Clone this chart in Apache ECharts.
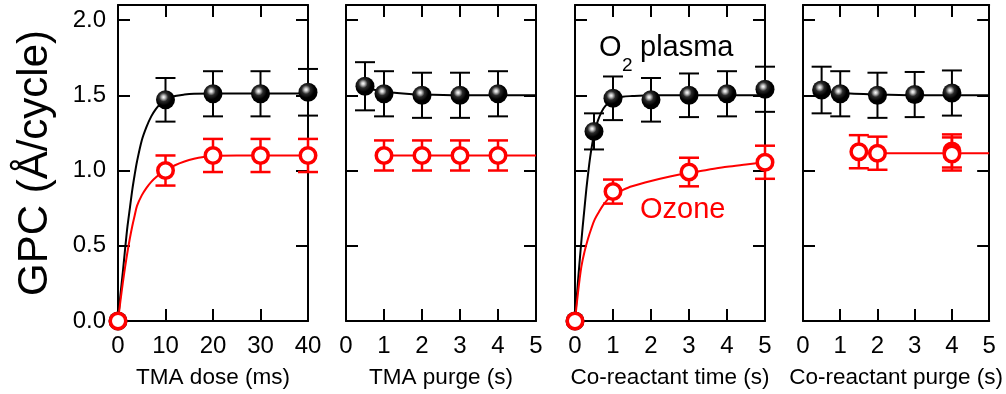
<!DOCTYPE html>
<html>
<head>
<meta charset="utf-8">
<title>GPC saturation curves</title>
<script src="https://cdn.jsdelivr.net/npm/echarts@6.0.0/dist/echarts.min.js"></script>
<style>
  html, body { margin: 0; padding: 0; background: #fff; }
  #gpc-chart { width: 1006px; height: 394px; }
</style>
</head>
<body>
<div id="gpc-chart"></div>
<script>
  /* axis setup for the four panels */
  const xNames = ['TMA dose (ms)', 'TMA purge (s)', 'Co-reactant time (s)', 'Co-reactant purge (s)'];
  const xMax = [40, 5, 5, 5];
  const xStep = [10, 1, 1, 1];
  const yMax = 2.1;
  const yStep = 0.5;

  /* panel 1 : TMA dose */
  const doseX = [0, 10, 20, 30, 40];
  const dosePlasma = [0, 1.47, 1.51, 1.51, 1.52];
  const dosePlasmaErr = [0, 0.145, 0.15, 0.15, 0.155];
  const doseOzone = [0, 1.00, 1.10, 1.10, 1.10];
  const doseOzoneErr = [0, 0.10, 0.11, 0.11, 0.11];
  const dosePlasmaFitX = [0, 0.5, 1, 1.5, 2, 2.5, 3, 3.5, 4, 5, 6, 7, 8, 9, 10, 12, 14, 16, 20, 30, 40];
  const dosePlasmaFitY = [0, 0.17, 0.32, 0.48, 0.63, 0.75, 0.87, 0.97, 1.06, 1.2, 1.29, 1.36, 1.41, 1.445, 1.47, 1.495, 1.505, 1.51, 1.512, 1.512, 1.512];
  const doseOzoneFitX = [0, 0.5, 1, 1.5, 2, 2.5, 3, 3.5, 4, 5, 6, 7, 8, 9, 10, 12, 14, 16, 18, 20, 25, 30, 40];
  const doseOzoneFitY = [0, 0.13, 0.25, 0.36, 0.46, 0.55, 0.63, 0.70, 0.765, 0.835, 0.885, 0.925, 0.955, 0.98, 1.0, 1.035, 1.06, 1.078, 1.09, 1.097, 1.10, 1.10, 1.10];

  /* panel 2 : TMA purge */
  const tmaPurgeX = [0.5, 1, 2, 3, 4];
  const tmaPurgePlasma = [1.56, 1.51, 1.50, 1.50, 1.51];
  const tmaPurgePlasmaErr = [0.16, 0.15, 0.15, 0.15, 0.15];
  const tmaPurgeOzoneX = [1, 2, 3, 4];
  const tmaPurgeOzone = [1.10, 1.10, 1.10, 1.10];
  const tmaPurgeOzoneErr = [0.10, 0.10, 0.10, 0.10];
  const tmaPurgePlasmaFitX = [0.5, 1, 1.5, 2, 3, 4, 5];
  const tmaPurgePlasmaFitY = [1.55, 1.525, 1.512, 1.505, 1.50, 1.50, 1.50];
  const tmaPurgeOzoneFitX = [1, 5];
  const tmaPurgeOzoneFitY = [1.10, 1.10];

  /* panel 3 : co-reactant time */
  const timeX = [0, 0.5, 1, 2, 3, 4, 5];
  const timePlasma = [0, 1.26, 1.48, 1.47, 1.50, 1.51, 1.54];
  const timePlasmaErr = [0, 0.12, 0.145, 0.145, 0.145, 0.15, 0.15];
  const timeOzoneX = [0, 1, 3, 5];
  const timeOzone = [0, 0.86, 0.99, 1.055];
  const timeOzoneErr = [0, 0.08, 0.095, 0.11];
  const timePlasmaFitX = [0, 0.05, 0.1, 0.15, 0.2, 0.25, 0.3, 0.35, 0.4, 0.45, 0.5, 0.6, 0.7, 0.8, 1, 1.25, 1.5, 2, 3, 4, 5];
  const timePlasmaFitY = [0, 0.17, 0.33, 0.48, 0.62, 0.75, 0.88, 0.99, 1.09, 1.17, 1.24, 1.33, 1.39, 1.43, 1.47, 1.49, 1.495, 1.50, 1.50, 1.50, 1.50];
  const timeOzoneFitX = [0, 0.04, 0.08, 0.12, 0.17, 0.25, 0.34, 0.43, 0.52, 0.63, 0.74, 0.87, 1, 1.25, 1.5, 2, 2.5, 3, 3.5, 4, 4.5, 5];
  const timeOzoneFitY = [0, 0.1, 0.19, 0.275, 0.365, 0.46, 0.545, 0.615, 0.675, 0.725, 0.77, 0.81, 0.84, 0.87, 0.895, 0.93, 0.96, 0.985, 1.005, 1.025, 1.04, 1.055];

  /* panel 4 : co-reactant purge */
  const purgeX = [0.5, 1, 2, 3, 4];
  const purgePlasma = [1.535, 1.51, 1.50, 1.505, 1.515];
  const purgePlasmaErr = [0.155, 0.15, 0.15, 0.15, 0.15];
  const purgeOzoneX = [1.5, 2, 4, 4];
  const purgeOzone = [1.125, 1.115, 1.13, 1.11];
  const purgeOzoneErr = [0.11, 0.11, 0.11, 0.11];
  const purgePlasmaFitX = [0.5, 1, 2, 3, 4, 5];
  const purgePlasmaFitY = [1.53, 1.515, 1.505, 1.50, 1.50, 1.50];
  const purgeOzoneFitX = [1.5, 5];
  const purgeOzoneFitY = [1.115, 1.115];

  const panels = [
    {x: doseX, p: dosePlasma, pe: dosePlasmaErr, ox: doseX, o: doseOzone, oe: doseOzoneErr,
      pfx: dosePlasmaFitX, pfy: dosePlasmaFitY, ofx: doseOzoneFitX, ofy: doseOzoneFitY},
    {x: tmaPurgeX, p: tmaPurgePlasma, pe: tmaPurgePlasmaErr, ox: tmaPurgeOzoneX, o: tmaPurgeOzone, oe: tmaPurgeOzoneErr,
      pfx: tmaPurgePlasmaFitX, pfy: tmaPurgePlasmaFitY, ofx: tmaPurgeOzoneFitX, ofy: tmaPurgeOzoneFitY},
    {x: timeX, p: timePlasma, pe: timePlasmaErr, ox: timeOzoneX, o: timeOzone, oe: timeOzoneErr,
      pfx: timePlasmaFitX, pfy: timePlasmaFitY, ofx: timeOzoneFitX, ofy: timeOzoneFitY},
    {x: purgeX, p: purgePlasma, pe: purgePlasmaErr, ox: purgeOzoneX, o: purgeOzone, oe: purgeOzoneErr,
      pfx: purgePlasmaFitX, pfy: purgePlasmaFitY, ofx: purgeOzoneFitX, ofy: purgeOzoneFitY}
  ];

  const FONT = '"Liberation Sans", Arial, Helvetica, sans-serif';
  const gridLeft = [118, 346, 575, 803];
  const RED = '#ff0000';

  const ballColor = {
    type: 'radial', x: 0.4, y: 0.36, r: 0.62,
    colorStops: [
      {offset: 0, color: '#ffffff'},
      {offset: 0.14, color: '#c4c4c4'},
      {offset: 0.38, color: '#2a2a2a'},
      {offset: 0.7, color: '#000000'},
      {offset: 1, color: '#000000'}
    ]
  };

  const zip = (a, b) => a.map((v, i) => [v, b[i]]);
  const errData = (xs, ys, es) => xs.map((v, i) => [v, ys[i] - es[i], ys[i] + es[i]]).filter((d, i) => es[i] > 0);

  function errRender(width) {
    return function (params, api) {
      const x = api.value(0);
      const top = api.coord([x, api.value(2)]);
      const bot = api.coord([x, api.value(1)]);
      const hw = 10;
      const style = {stroke: api.visual('color'), lineWidth: width, fill: null};
      return {
        type: 'group',
        children: [
          {type: 'line', shape: {x1: top[0], y1: top[1], x2: bot[0], y2: bot[1]}, style: style},
          {type: 'line', shape: {x1: top[0] - hw, y1: top[1], x2: top[0] + hw, y2: top[1]}, style: style},
          {type: 'line', shape: {x1: bot[0] - hw, y1: bot[1], x2: bot[0] + hw, y2: bot[1]}, style: style}
        ]
      };
    };
  }

  const grid = [], xAxis = [], yAxis = [], series = [];
  const lineStyle = {color: '#000', width: 2};
  const tickStyle = {inside: true, length: 12, lineStyle: {color: '#000', width: 2}};

  panels.forEach((pn, i) => {
    grid.push({left: gridLeft[i], top: 5, width: 190, height: 317});
    ['bottom', 'top'].forEach((pos) => {
      xAxis.push({
        gridIndex: i, type: 'value', position: pos, min: 0, max: xMax[i], interval: xStep[i],
        axisLine: {show: true, onZero: false, lineStyle: lineStyle},
        axisTick: tickStyle,
        splitLine: {show: false},
        axisLabel: {show: pos === 'bottom', color: '#000', fontSize: 24, fontFamily: FONT, margin: 13},
        name: pos === 'bottom' ? xNames[i] : '',
        nameLocation: 'middle', nameGap: 45,
        nameTextStyle: {color: '#000', fontSize: 22.5, fontFamily: FONT}
      });
    });
    ['left', 'right'].forEach((pos) => {
      yAxis.push({
        gridIndex: i, type: 'value', position: pos, min: 0, max: yMax, interval: yStep,
        axisLine: {show: true, onZero: false, lineStyle: lineStyle},
        axisTick: tickStyle,
        splitLine: {show: false},
        axisLabel: {
          show: pos === 'left' && i === 0, color: '#000', fontSize: 24, fontFamily: FONT, margin: 12,
          formatter: (v) => (v > 2.05 ? '' : v.toFixed(1))
        },
        name: pos === 'left' && i === 0 ? 'GPC (Å/cycle)' : '',
        nameLocation: 'middle', nameGap: 62,
        nameTextStyle: {color: '#000', fontSize: 42, fontFamily: FONT}
      });
    });

    const ax = {xAxisIndex: 2 * i, yAxisIndex: 2 * i};
    series.push(Object.assign({
      type: 'line', data: zip(pn.pfx, pn.pfy), smooth: 0.3, symbol: 'none',
      lineStyle: {color: '#000', width: 2}, z: 2, silent: true
    }, ax));
    series.push(Object.assign({
      type: 'line', data: zip(pn.ofx, pn.ofy), smooth: 0.3, symbol: 'none',
      lineStyle: {color: RED, width: 2}, z: 2, silent: true
    }, ax));
    series.push(Object.assign({
      type: 'custom', data: errData(pn.x, pn.p, pn.pe), renderItem: errRender(2),
      itemStyle: {color: '#000'}, encode: {x: 0, y: [1, 2]}, clip: false, z: 3
    }, ax));
    series.push(Object.assign({
      type: 'custom', data: errData(pn.ox, pn.o, pn.oe), renderItem: errRender(2.5),
      itemStyle: {color: RED}, encode: {x: 0, y: [1, 2]}, clip: false, z: 3
    }, ax));
    series.push(Object.assign({
      type: 'scatter', data: zip(pn.x, pn.p), symbol: 'circle', symbolSize: 19,
      itemStyle: {color: ballColor, opacity: 1}, clip: false, z: 4
    }, ax));
    series.push(Object.assign({
      type: 'scatter', data: zip(pn.ox, pn.o), symbol: 'circle', symbolSize: 15.5,
      itemStyle: {color: '#fff', borderColor: RED, borderWidth: 3.5, opacity: 1}, clip: false, z: 5
    }, ax));
  });

  const gpcChart = echarts.init(document.getElementById('gpc-chart'));
  gpcChart.setOption({
    animation: false,
    backgroundColor: '#fff',
    textStyle: {fontFamily: FONT},
    grid: grid,
    xAxis: xAxis,
    yAxis: yAxis,
    series: series,
    graphic: [
      {type: 'text', left: 599, top: 33, style: {text: 'O', fontSize: 29, fontFamily: FONT, fill: '#000'}},
      {type: 'text', left: 622, top: 56, style: {text: '2', fontSize: 19, fontFamily: FONT, fill: '#000'}},
      {type: 'text', left: 640, top: 33, style: {text: 'plasma', fontSize: 29, fontFamily: FONT, fill: '#000'}},
      {type: 'text', left: 640, top: 195, style: {text: 'Ozone', fontSize: 29, fontFamily: FONT, fill: RED}}
    ]
  });
</script>
</body>
</html>
